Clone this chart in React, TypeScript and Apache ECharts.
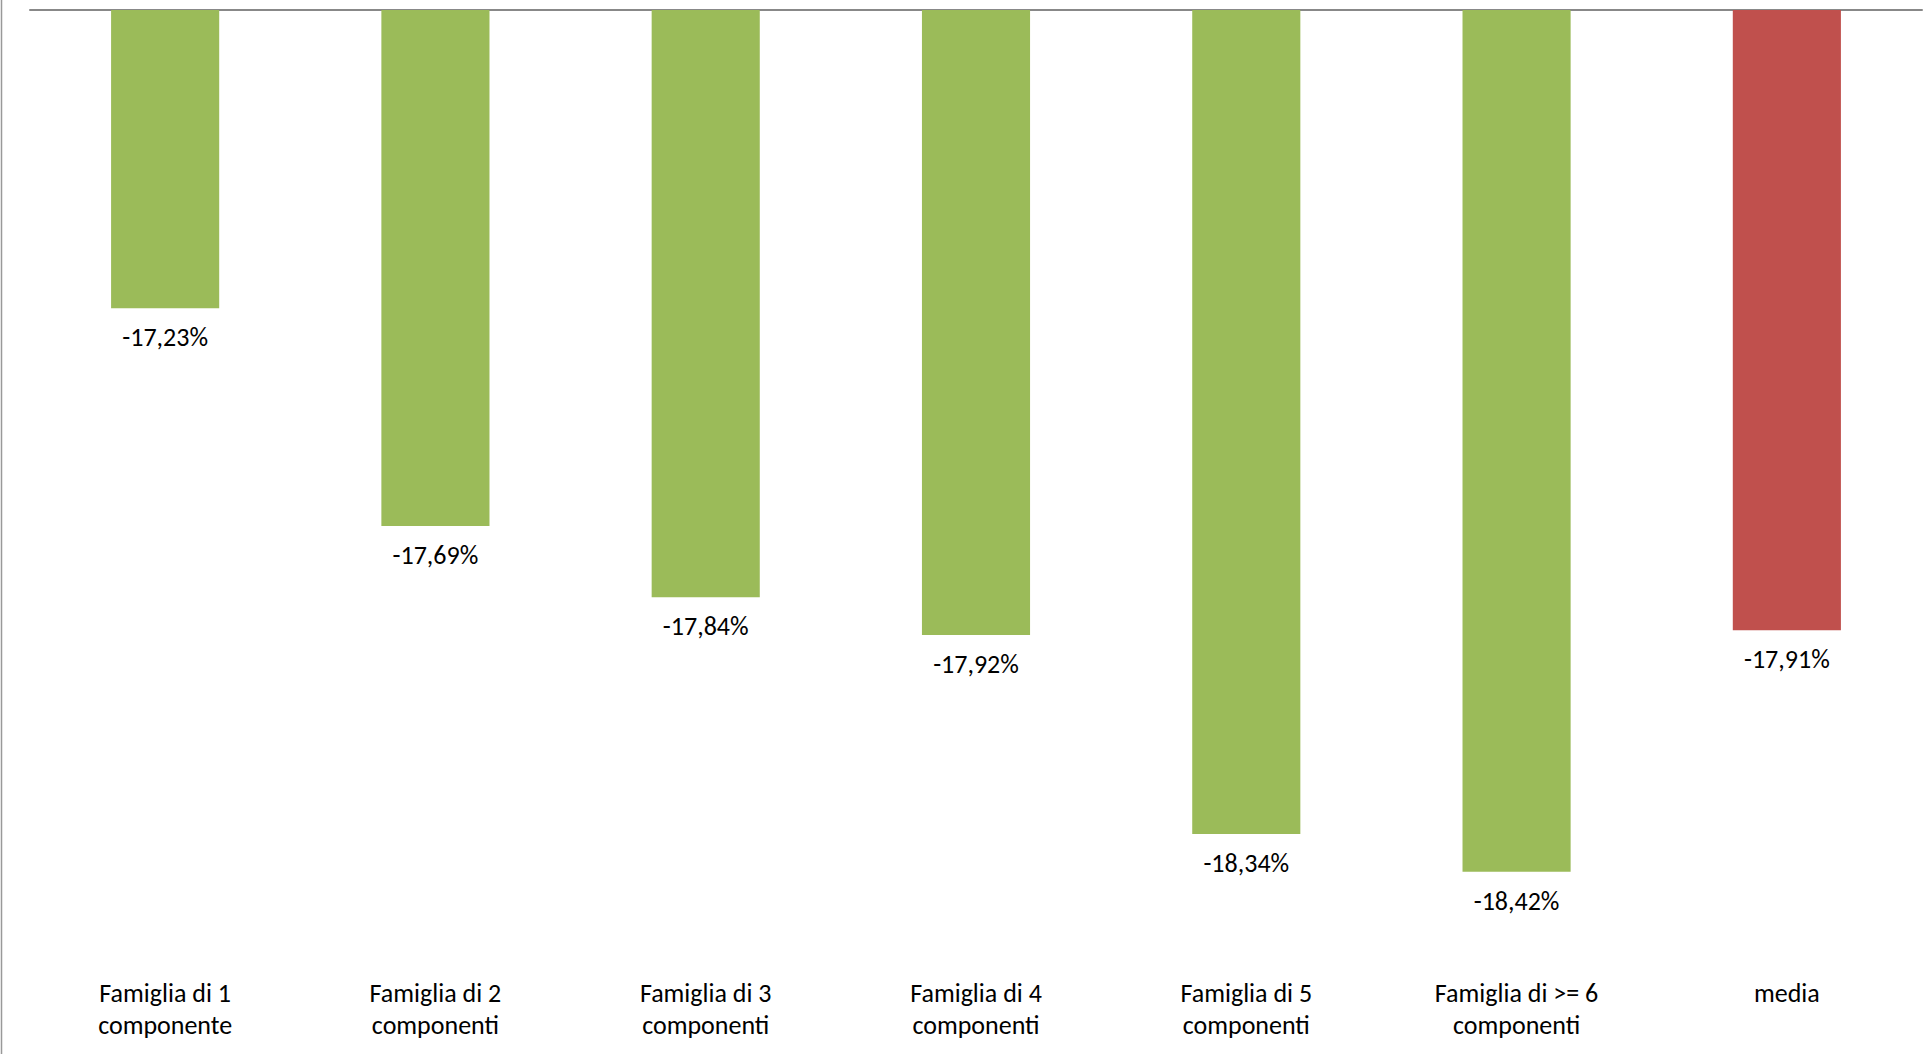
import React, { useEffect, useRef } from "react";
import * as echarts from "echarts";

const categories = [
  "Famiglia di 1\ncomponente",
  "Famiglia di 2\ncomponenti",
  "Famiglia di 3\ncomponenti",
  "Famiglia di 4\ncomponenti",
  "Famiglia di 5\ncomponenti",
  "Famiglia di >= 6\ncomponenti",
  "media",
];
const values = [-17.23, -17.69, -17.84, -17.92, -18.34, -18.42, -17.91];
const barColors = ["#9BBB59", "#9BBB59", "#9BBB59", "#9BBB59", "#9BBB59", "#9BBB59", "#C0504D"];
const yMin = -18.6;
const yMax = -16.6;

const FONT = "Carlito, Lato, sans-serif";

export default function App() {
  const ref = useRef<HTMLDivElement>(null);
  useEffect(() => {
    if (!ref.current) return;
    const chart = echarts.init(ref.current, null, { renderer: "svg" });
    chart.setOption({
      animation: false,
      backgroundColor: "#ffffff",
      grid: { left: 30, right: 9, top: 10, bottom: 97, containLabel: false },
      xAxis: [
        {
          type: "category",
          data: categories,
          position: "bottom",
          axisLine: { show: false },
          axisTick: { show: false },
          axisLabel: {
            color: "#000000",
            fontFamily: FONT,
            fontSize: 26,
            lineHeight: 32,
            margin: 20,
            interval: 0,
          },
        },
        {
          type: "category",
          data: categories,
          position: "top",
          axisLine: { show: true, lineStyle: { color: "#888888", width: 2 } },
          axisTick: { show: false },
          axisLabel: { show: false },
        },
      ],
      yAxis: {
        type: "value",
        min: yMin,
        max: yMax,
        show: false,
        splitLine: { show: false },
      },
      series: [
        {
          type: "bar",
          xAxisIndex: 0,
          clip: true,
          barCategoryGap: "60%",
          data: values.map((v, i) => ({ value: v, itemStyle: { color: barColors[i] } })),
          label: {
            show: true,
            position: "bottom",
            distance: 16,
            color: "#000000",
            fontFamily: FONT,
            fontSize: 26,
            formatter: (p: any) => p.value.toFixed(2).replace(".", ",") + "%",
          },
        },
      ],
      graphic: [
        {
          type: "line",
          shape: { x1: 1.5, y1: 0, x2: 1.5, y2: 1054 },
          style: { stroke: "#999999", lineWidth: 1.5 },
        },
      ],
    });
    return () => chart.dispose();
  }, []);
  return (
    <div
      ref={ref}
      style={{ position: "absolute", left: 0, top: 0, width: 1931, height: 1054 }}
    />
  );
}
